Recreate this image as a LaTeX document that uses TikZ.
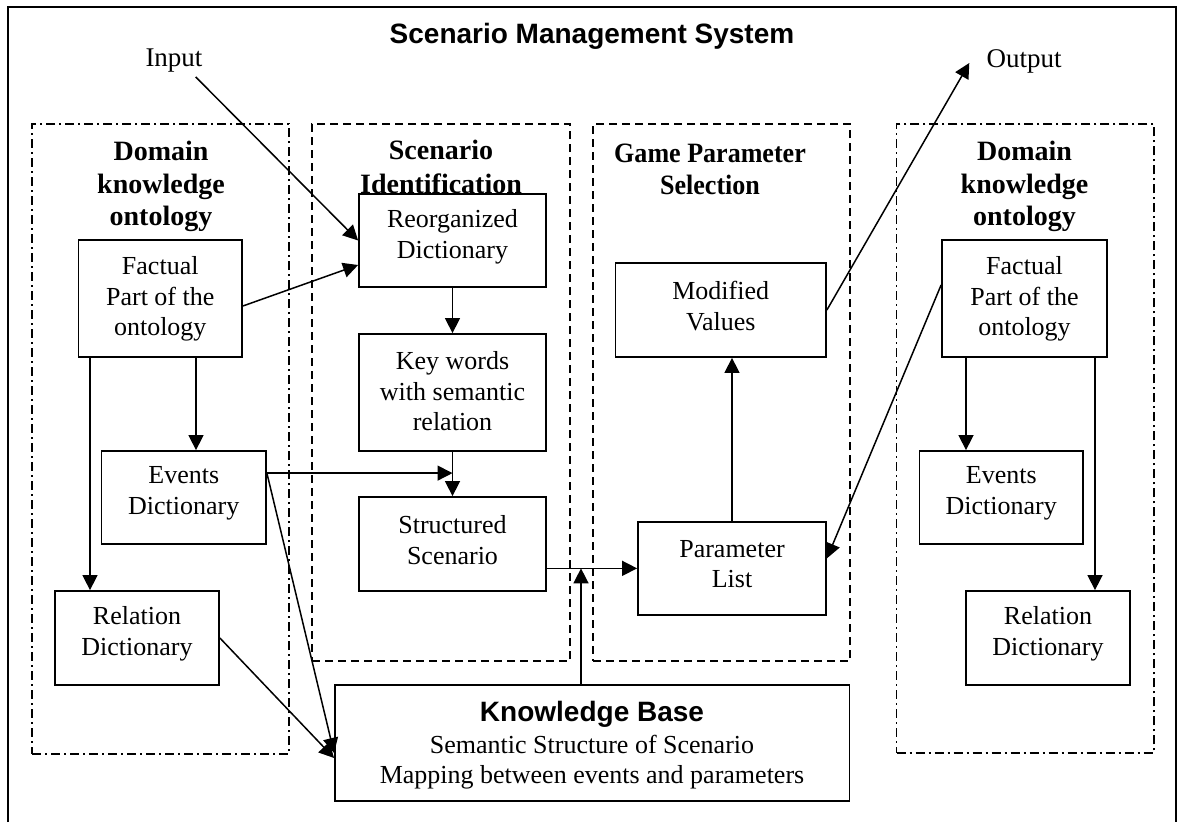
\documentclass[tikz,border=0pt]{standalone}
\usepackage{fontspec}
\usepackage{graphicx}
\setmainfont{Liberation Serif}
\setsansfont{Liberation Sans}
\usetikzlibrary{arrows.meta}

\begin{document}
\begin{tikzpicture}[x=1pt,y=-1pt,
  box/.style={draw, line width=1.8pt, rectangle, inner sep=0pt},
  txt/.style={align=center, inner sep=0pt, font=\fontsize{26}{30.5}\selectfont},
  head/.style={align=center, inner sep=0pt, font=\fontsize{28}{32.5}\selectfont\bfseries},
  io/.style={inner sep=0pt, font=\fontsize{27}{30}\selectfont},
  arr/.style={line width=1.5pt, -{Triangle[length=15pt,width=15pt]}},
  dashgrp/.style={draw, line width=1.4pt, dash pattern=on 8pt off 5pt, rectangle, inner sep=0pt},
  dotgrp/.style={draw, line width=1.4pt, dash pattern=on 9pt off 4pt on 2pt off 4pt, rectangle, inner sep=0pt},
  frame/.style={line width=2.4pt}]

\useasboundingbox (0,0) rectangle (1178,822);

% outer frame (open at the bottom edge)
\draw[frame] (8,822) -- (8,7) -- (1176,7) -- (1176,822);

% title and system input/output
\node[inner sep=0pt, font=\sffamily\bfseries\fontsize{28}{32}\selectfont] (title) at (592,36.3) {Scenario Management System};
\node[io] (inp) at (174,61) {Input};
\node[io] (outp) at (1024,61) {Output};

% group frames
\node[dotgrp, minimum width=257, minimum height=630] (gleft) at (160.5,439) {};
\node[dashgrp, minimum width=258, minimum height=537] (gscen) at (441,392.5) {};
\node[dashgrp, minimum width=257, minimum height=537] (ggame) at (721.5,392.5) {};
\node[dotgrp, minimum width=257.4, minimum height=629] (gright) at (1025.3,438.5) {};

% group headings
\node[head] (hleft) at (161,186.5) {Domain\\knowledge\\ontology};
\node[head, font=\fontsize{28}{33.5}\selectfont\bfseries] (hscen) at (441,167) {Scenario\\Identification};
\node[head, font=\fontsize{28}{31.5}\selectfont\bfseries] (hgame) at (710,169.5)
  {\scalebox{0.93}[1]{Game Parameter}\\\scalebox{0.93}[1]{Selection}};
\node[head] (hright) at (1024.5,186.5) {Domain\\knowledge\\ontology};

% left ontology
\node[box, minimum width=163.5, minimum height=117] (fl) at (160.25,298.5) {};
\node[txt] (fl-t) at (160.25,299) {Factual\\Part of the\\ontology};
\node[box, minimum width=164.5, minimum height=93] (ev) at (183.75,497.5) {};
\node[txt] (ev-t) at (183.75,493.5) {Events\\Dictionary};
\node[box, minimum width=164, minimum height=94] (rel) at (137,638) {};
\node[txt] (rel-t) at (137,634) {Relation\\Dictionary};

% scenario identification
\node[box, minimum width=187, minimum height=93] (reorg) at (452.5,240.5) {};
\node[txt] (reorg-t) at (452.5,237) {Reorganized\\Dictionary};
\node[box, minimum width=187, minimum height=117] (kw) at (452.5,392.5) {};
\node[txt] (kw-t) at (452.5,391.5) {Key words\\with semantic\\relation};
\node[box, minimum width=187, minimum height=94] (st) at (452.5,544) {};
\node[txt] (st-t) at (452.5,540) {Structured\\Scenario};

% game parameter selection
\node[box, minimum width=210.5, minimum height=94] (mod) at (720.75,310) {};
\node[txt] (mod-t) at (720.75,306) {Modified\\Values};
\node[box, minimum width=188, minimum height=93.3] (par) at (732,568.35) {};
\node[txt] (par-t) at (732,564) {Parameter\\List};

% right ontology
\node[box, minimum width=165, minimum height=117] (fr) at (1024.5,298.5) {};
\node[txt] (fr-t) at (1024.5,299) {Factual\\Part of the\\ontology};
\node[box, minimum width=163.5, minimum height=93] (evr) at (1001.25,497.5) {};
\node[txt] (evr-t) at (1001.25,493.5) {Events\\Dictionary};
\node[box, minimum width=164, minimum height=94] (relr) at (1048,638) {};
\node[txt] (relr-t) at (1048,634) {Relation\\Dictionary};

% knowledge base
\node[box, minimum width=514.5, minimum height=116] (kb) at (592.25,743) {};
\node[txt, font=\fontsize{26}{30}\selectfont] (kb-t) at (592,745.4)
  {{\sffamily\bfseries\fontsize{28}{30}\selectfont Knowledge Base}\\[1.7pt]
   Semantic Structure of Scenario\\Mapping between events and parameters};

% connectors
\draw[arr] ([shift={(-7,4)}]inp.south east) -- (reorg.west);
\draw[arr] ([shift={(0,7.5)}]fl.east) -- ([shift={(0,24.5)}]reorg.west);
\draw[arr] (reorg.south) -- (kw.north);
\draw[arr] (kw.south) -- (st.north);
\draw[arr] ([shift={(0,23)}]ev.north east) coordinate (evout) -- (evout -| kw.south);
\draw[arr] (evout) -- ([shift={(0,10)}]kb.west);
\draw[arr] (rel.east) -- ([shift={(0,15)}]kb.west);
\draw[arr] ([shift={(35.75,0)}]fl.south) coordinate (flev) -- (flev |- ev.north);
\draw[arr] ([shift={(-70.25,0)}]fl.south) coordinate (flrel) -- (flrel |- rel.north);
\draw[arr] (par.west -| st.east) -- (par.west);
\draw[arr] ([shift={(-11.25,0)}]kb.north) coordinate (kbup) -- (kbup |- par.west);
\draw[arr] (par.north) -- (par.north |- mod.south);
\draw[arr] (mod.east) -- ([shift={(-17,2)}]outp.west);
\draw[arr] ([shift={(0,-13.5)}]fr.west) -- ([shift={(0,-10)}]par.east);
\draw[arr] ([shift={(-58.5,0)}]fr.south) coordinate (frev) -- (frev |- evr.north);
\draw[arr] ([shift={(70.5,0)}]fr.south) coordinate (frrel) -- (frrel |- relr.north);

\end{tikzpicture}
\end{document}
